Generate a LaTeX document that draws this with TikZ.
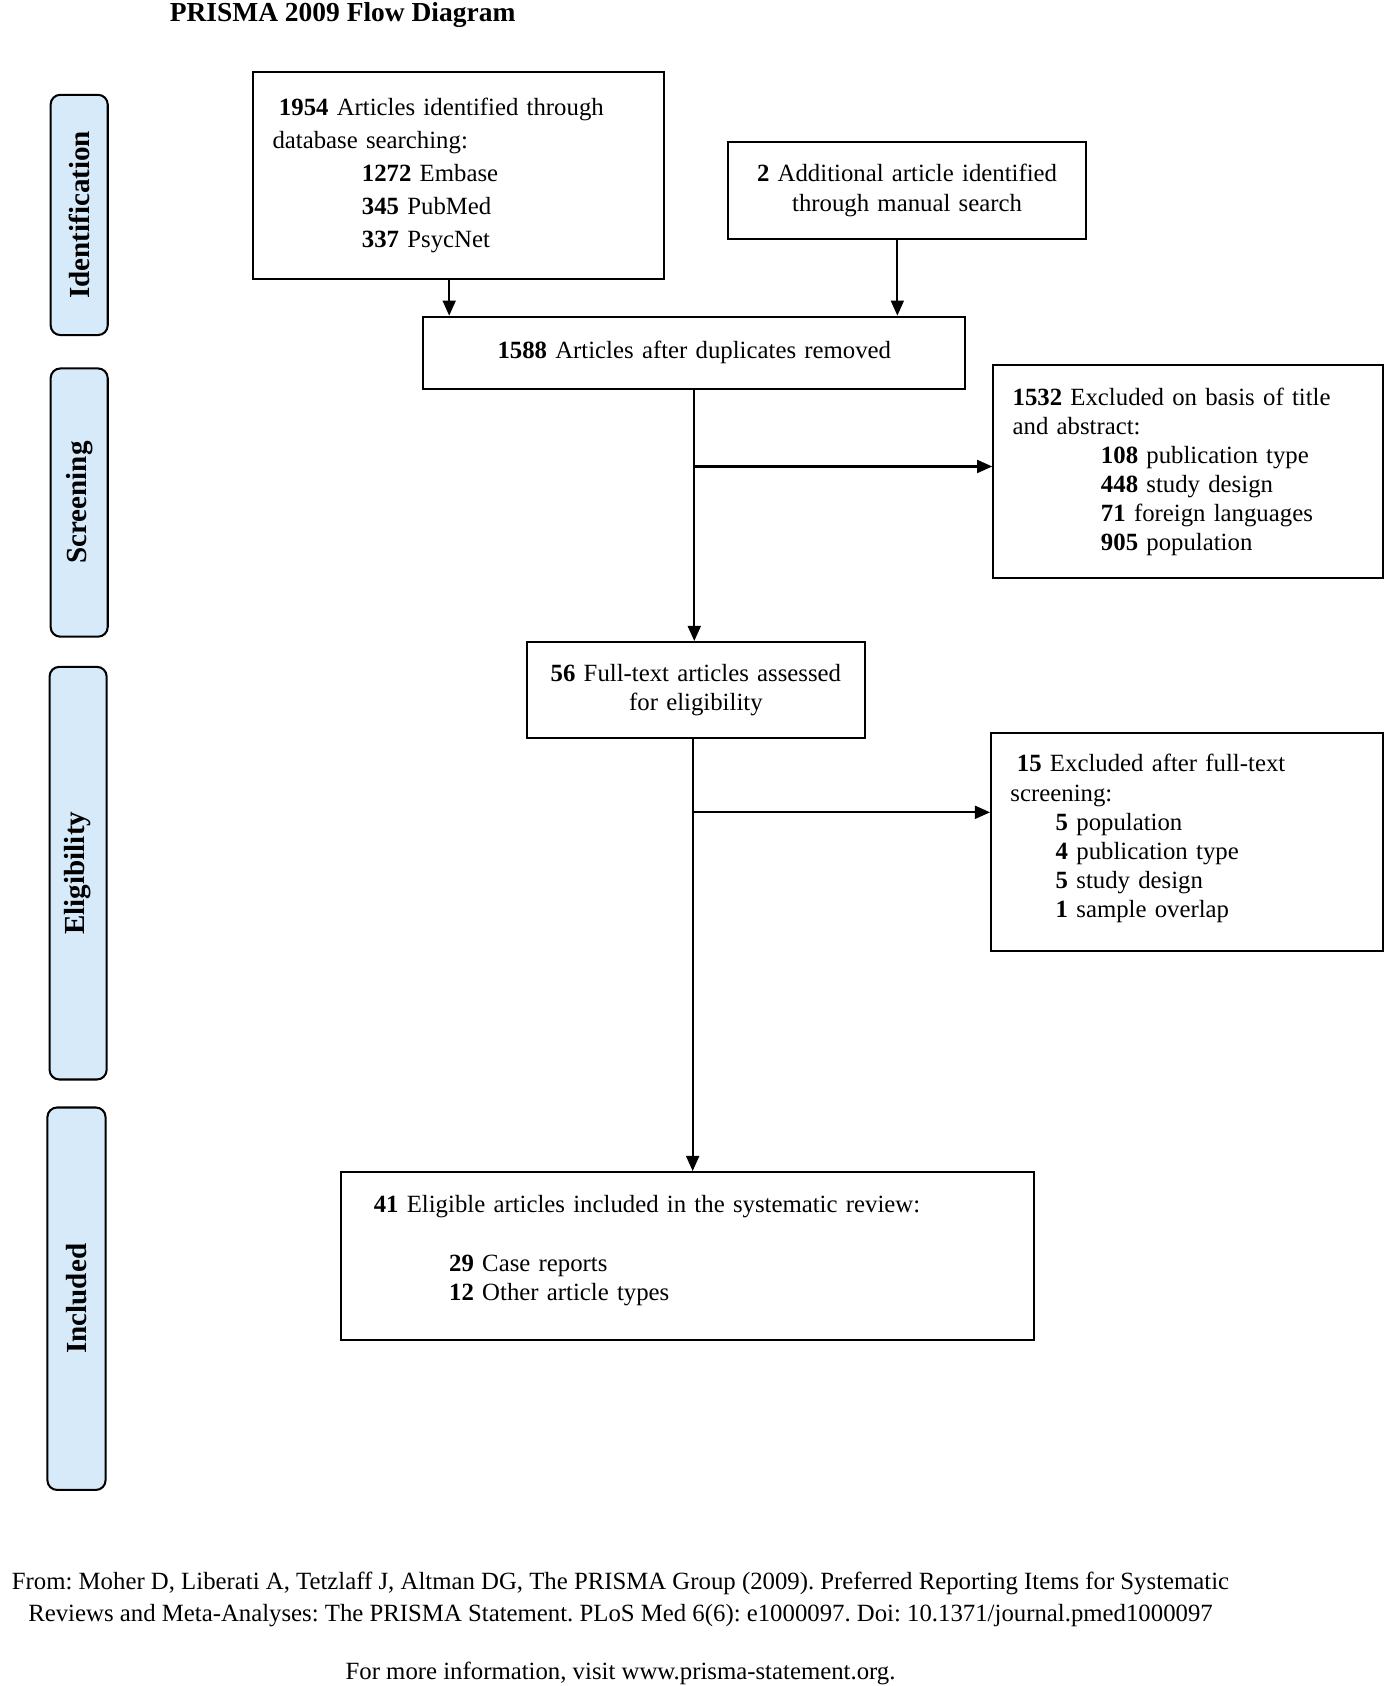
\documentclass[tikz,border=0pt]{standalone}
\usepackage{fontspec}
\setmainfont{Liberation Serif}
\usetikzlibrary{arrows.meta}
\definecolor{sideblue}{RGB}{214,234,250}
\frenchspacing
\begin{document}
\begin{tikzpicture}[x=1pt,y=-1pt,
  box/.style={draw, line width=1.9pt, rectangle, inner ysep=0pt, anchor=north west,
    font=\fontsize{23}{27}\selectfont},
  side/.style={draw, line width=1.9pt, rounded corners=9pt, fill=sideblue, rotate=90,
    inner sep=0pt, font=\fontsize{27}{30}\selectfont\bfseries},
  arr/.style={line width=1.9pt, -{Triangle[length=14pt,width=12pt]}},
  foot/.style={anchor=base, inner sep=0pt, font=\fontsize{23}{30}\selectfont}]
\useasboundingbox (0,0) rectangle (1290,1565);

% title
\node[anchor=base, inner sep=0pt, font=\fontsize{25.5}{30}\selectfont\bfseries] (title) at (318,20) {PRISMA 2009 Flow Diagram};

% side labels
\node[side, minimum width=223pt, minimum height=53pt] (sid) at (73.5,199.5) {Identification};
\node[side, minimum width=249pt, minimum height=53pt] (sscr) at (73.5,466.5) {Screening};
\node[side, minimum width=383pt, minimum height=53pt] (selig) at (72.5,810.5) {Eligibility};
\node[side, minimum width=355pt, minimum height=54pt] (sinc) at (71,1205.5) {Included};

% boxes
\node[box, minimum width=381pt, minimum height=192pt, text width=345pt, inner xsep=18pt,
  align=left, font=\fontsize{23}{30.5}\selectfont] (b1) at (234,66)
  {\hspace*{6pt}\textbf{1954} Articles identified through\\
   database searching:\\
   \hspace*{83pt}\textbf{1272} Embase\\
   \hspace*{83pt}\textbf{345} PubMed\\
   \hspace*{83pt}\textbf{337} PsycNet};

\node[box, minimum width=332pt, minimum height=90pt, text width=312pt, inner xsep=10pt,
  align=center, font=\fontsize{23}{28}\selectfont] (b2) at (675,131)
  {\textbf{2} Additional article identified\\ through manual search};

\node[box, minimum width=503pt, minimum height=67pt, text width=483pt, inner xsep=10pt,
  align=center] (b3) at (392,293)
  {\textbf{1588} Articles after duplicates removed};

\node[box, minimum width=362pt, minimum height=198pt, text width=326pt, inner xsep=18pt,
  align=left] (b4) at (921,338)
  {\textbf{1532} Excluded on basis of title\\
   and abstract:\\
   \hspace*{82pt}\textbf{108} publication type\\
   \hspace*{82pt}\textbf{448} study design\\
   \hspace*{82pt}\textbf{71} foreign languages\\
   \hspace*{82pt}\textbf{905} population};

\node[box, minimum width=314pt, minimum height=89pt, text width=294pt, inner xsep=10pt,
  align=center] (b5) at (488,595)
  {\textbf{56} Full-text articles assessed\\ for eligibility};

\node[box, minimum width=364pt, minimum height=203pt, text width=328pt, inner xsep=18pt,
  align=left] (b6) at (919,679)
  {\hspace*{6pt}\textbf{15} Excluded after full-text\\
   screening:\\
   \hspace*{42pt}\textbf{5} population\\
   \hspace*{42pt}\textbf{4} publication type\\
   \hspace*{42pt}\textbf{5} study design\\
   \hspace*{42pt}\textbf{1} sample overlap\\[-16pt]\mbox{}};

\node[box, minimum width=643pt, minimum height=156pt, text width=583pt, inner xsep=30pt,
  align=left] (b7) at (316,1087)
  {\textbf{41} Eligible articles included in the systematic review:\\[27pt]
   \hspace*{70pt}\textbf{29} Case reports\\
   \hspace*{70pt}\textbf{12} Other article types\\[-12pt]\mbox{}};

% connectors
\draw[arr] ([xshift=-8.5pt]b1.south) -- ([xshift=-8.5pt]b1.south |- b3.north);
\draw[arr] ([xshift=-9pt]b2.south) -- ([xshift=-9pt]b2.south |- b3.north);
\draw[arr] (b3.south) -- (b3.south |- b5.north);
\coordinate (j1) at (643.5,433);
\draw[arr] (j1) -- (j1 -| b4.west);
\draw[arr] ([xshift=-3pt]b5.south) -- ([xshift=-3pt]b5.south |- b7.north);
\coordinate (j2) at (642,754);
\draw[arr] (j2) -- (j2 -| b6.west);

% footer
\node[foot] (f1) at (576,1475) {From: Moher D, Liberati A, Tetzlaff J, Altman DG, The PRISMA Group (2009). Preferred Reporting Items for Systematic};
\node[foot] (f2) at (576,1505) {Reviews and Meta-Analyses: The PRISMA Statement. PLoS Med 6(6): e1000097. Doi: 10.1371/journal.pmed1000097};
\node[foot] (f3) at (576,1559) {For more information, visit www.prisma-statement.org.};
\end{tikzpicture}
\end{document}
